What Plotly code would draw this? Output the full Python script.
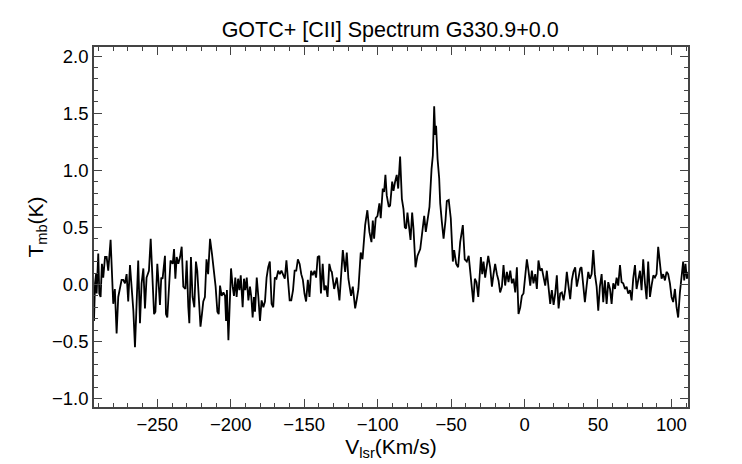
import plotly.graph_objects as go

# Velocity channels (km/s) and main-beam temperature (K)
vel = [
    -293.1, -292.4, -291.7, -291.3, -290.2, -289.5, -288.6, -287.7, -286.8, -285.6,
    -284.5, -283.4, -281.8, -280.0, -278.9, -277.7, -276.6, -275.4, -274.3, -273.2,
    -272.0, -270.9, -269.8, -268.6, -267.5, -266.3, -265.2, -264.1, -263.0, -261.8,
    -260.7, -259.5, -258.4, -257.3, -255.7, -254.5, -253.2, -252.2, -251.3, -250.0,
    -249.1, -248.2, -247.3, -246.4, -244.8, -244.1, -243.2, -241.8, -241.0, -239.5,
    -238.6, -237.7, -236.8, -235.7, -234.5, -233.4, -232.3, -230.9, -230.0, -228.9,
    -228.2, -227.1, -226.0, -224.8, -223.7, -222.8, -221.7, -220.6, -219.6, -218.7,
    -217.6, -216.5, -215.4, -214.1, -212.8, -211.4, -210.3, -209.1, -208.2, -207.3,
    -206.2, -205.0, -203.9, -203.2, -202.6, -201.6, -200.5, -199.8, -198.7, -197.8,
    -196.9, -196.0, -195.0, -194.1, -193.2, -191.9, -191.0, -190.1, -189.1, -188.0,
    -186.9, -186.0, -185.1, -184.2, -183.5, -182.3, -181.2, -180.1, -179.0, -177.8,
    -176.7, -175.6, -174.5, -173.4, -172.2, -171.1, -170.0, -168.9, -167.7, -166.6,
    -165.5, -164.4, -163.2, -162.1, -161.0, -159.9, -158.8, -157.6, -156.5, -155.4,
    -154.3, -153.1, -152.0, -150.9, -149.8, -148.7, -147.5, -146.4, -145.3, -144.2,
    -143.0, -141.9, -140.8, -139.7, -138.6, -137.4, -136.3, -135.2, -134.1, -132.9,
    -131.8, -131.2, -129.6, -127.8, -126.0, -123.7, -122.1, -121.0, -119.9, -118.1,
    -116.9, -115.3, -114.2, -113.1, -111.5, -110.3, -108.5, -107.0, -105.6, -104.2,
    -103.3, -102.4, -101.3, -100.1, -98.8, -97.9, -96.5, -95.6, -94.7, -93.8,
    -92.4, -91.5, -90.1, -89.2, -88.1, -87.0, -86.0, -84.7, -83.5, -82.4,
    -81.5, -80.6, -79.7, -78.5, -77.6, -76.5, -75.6, -74.2, -72.9, -71.0,
    -69.2, -68.3, -67.2, -65.8, -64.7, -63.3, -62.4, -61.5, -60.8, -60.2,
    -59.2, -58.1, -57.4, -56.3, -55.1, -53.8, -52.9, -51.6, -50.2, -48.8,
    -47.9, -46.5, -45.2, -43.8, -42.0, -40.7, -39.3, -38.0, -36.6, -34.9,
    -33.8, -32.7, -31.5, -30.6, -29.7, -28.8, -27.9, -26.8, -25.8, -24.7,
    -23.4, -22.2, -21.1, -20.0, -18.8, -17.7, -16.6, -15.4, -14.3, -13.2,
    -12.0, -10.9, -9.7, -8.6, -7.5, -6.3, -5.2, -4.1, -2.9, -1.8,
    -0.7, 0.5, 1.6, 2.7, 3.9, 5.0, 6.1, 7.3, 8.4, 9.5,
    10.7, 11.8, 12.9, 14.1, 15.2, 16.3, 17.5, 18.6, 19.8, 20.9,
    22.0, 23.2, 24.3, 25.4, 26.6, 27.7, 28.8, 29.9, 31.1, 32.2,
    33.3, 34.5, 35.6, 36.8, 37.9, 38.8, 40.0, 41.1, 42.3, 43.4,
    44.5, 45.7, 46.8, 47.9, 49.1, 50.2, 51.3, 52.5, 53.6, 54.7,
    55.9, 57.0, 58.2, 59.3, 60.4, 61.6, 62.7, 63.8, 65.0, 66.1,
    67.2, 68.4, 69.5, 70.6, 71.8, 72.9, 74.0, 75.2, 76.3, 77.4,
    78.6, 79.7, 80.8, 82.0, 83.1, 84.2, 85.4, 86.5, 87.7, 88.8,
    89.9, 91.0, 92.2, 93.3, 94.4, 95.6, 96.7, 97.8, 99.0, 100.1,
    101.2, 102.4, 103.5, 104.6, 105.8, 106.9, 108.0, 108.7, 109.6, 110.5,
    111.5,
]

tmb = [
    -0.32, 0.01, 0.09, -0.08, 0.27, -0.08, -0.11, 0.18, 0.06, 0.24,
    0.24, 0.12, 0.39, -0.17, -0.04, -0.43, -0.11, -0.02, 0.04, 0.04,
    0.01, 0.09, -0.15, 0.17, 0.01, -0.23, -0.55, -0.11, 0.21, -0.34,
    0.01, 0.14, -0.21, 0.06, 0.12, 0.40, 0.06, -0.26, -0.24, 0.18,
    0.01, -0.18, 0.06, 0.05, 0.25, -0.26, -0.29, 0.12, 0.21, 0.18,
    0.31, 0.05, 0.24, 0.18, 0.24, 0.33, -0.02, -0.04, 0.21, -0.20,
    -0.34, 0.24, -0.11, -0.20, 0.20, 0.12, -0.08, -0.37, -0.26, -0.15,
    -0.11, 0.22, 0.09, 0.40, 0.27, 0.12, -0.02, -0.24, -0.26, -0.01,
    -0.10, -0.07, -0.10, -0.32, -0.05, -0.49, -0.02, 0.14, -0.02, -0.10,
    0.06, -0.11, 0.05, -0.05, 0.08, -0.20, 0.05, -0.05, 0.06, -0.14,
    -0.02, -0.11, -0.29, -0.11, -0.24, 0.06, -0.11, -0.32, -0.14, -0.20,
    -0.15, 0.06, 0.15, 0.20, -0.17, -0.20, 0.06, 0.05, 0.12, 0.09,
    0.12, 0.09, 0.05, 0.21, 0.06, -0.14, -0.14, -0.05, 0.12, 0.12,
    0.22, 0.18, 0.09, 0.04, -0.08, -0.15, 0.04, -0.11, 0.12, 0.08,
    0.12, 0.06, 0.24, 0.25, -0.08, 0.18, -0.05, -0.01, -0.11, 0.18,
    0.12, 0.11, -0.04, 0.06, -0.14, 0.30, 0.11, 0.28, 0.05, -0.10,
    -0.02, -0.21, -0.13, -0.04, 0.28, 0.22, 0.52, 0.65, 0.46, 0.37,
    0.56, 0.40, 0.58, 0.60, 0.71, 0.58, 0.84, 0.81, 0.96, 0.78,
    0.68, 0.69, 0.90, 0.82, 0.90, 0.96, 0.84, 1.12, 0.75, 0.66,
    0.50, 0.49, 0.63, 0.52, 0.39, 0.63, 0.49, 0.15, 0.25, 0.31,
    0.49, 0.60, 0.46, 0.58, 0.68, 1.01, 1.13, 1.56, 1.31, 1.39,
    1.10, 0.93, 0.71, 0.55, 0.40, 0.56, 0.73, 0.74, 0.58, 0.20,
    0.30, 0.18, 0.15, 0.37, 0.52, 0.22, 0.20, 0.25, 0.09, -0.155,
    0.05, 0.02, -0.11, 0.08, 0.24, 0.09, 0.20, 0.06, 0.14, 0.25,
    0.15, -0.02, 0.09, 0.18, 0.09, 0.035, -0.07, -0.02, 0.17, -0.01,
    0.11, 0.02, 0.12, 0.01, 0.05, -0.07, 0.15, -0.26, -0.20, -0.10,
    -0.08, 0.09, 0.22, 0.12, -0.01, 0.12, 0.01, 0.09, -0.04, 0.21,
    0.12, 0.14, 0.08, -0.01, 0.12, -0.04, -0.17, -0.05, -0.18, -0.08,
    0.08, -0.21, -0.08, -0.07, -0.14, -0.05, 0.11, -0.01, -0.13, 0.035,
    0.11, 0.15, -0.02, 0.06, 0.14, 0.15, -0.05, -0.155, -0.01, 0.11,
    0.05, 0.09, 0.30, 0.09, -0.02, -0.23, -0.02, 0.09, -0.155, 0.035,
    -0.17, 0.02, -0.04, -0.17, 0.01, -0.04, 0.06, -0.01, 0.17, 0.02,
    0.01, -0.04, -0.02, -0.08, -0.05, -0.14, 0.05, 0.17, -0.04, 0.035,
    0.12, -0.05, 0.22, 0.01, -0.13, 0.20, -0.11, -0.01, 0.08, 0.06,
    0.09, 0.33, 0.15, 0.05, 0.09, 0.035, 0.11, 0.09, 0.01, -0.11,
    -0.155, -0.04, -0.20, -0.29, -0.07, 0.06, 0.20, 0.035, 0.18, 0.05,
    0.11,
]

x_ticks = [-250, -200, -150, -100, -50, 0, 50, 100]
y_ticks = [-1.0, -0.5, 0.0, 0.5, 1.0, 1.5, 2.0]

fig = go.Figure(go.Scatter(x=vel, y=tmb, mode="lines",
                           line=dict(color="black", width=1.8),
                           showlegend=False))

# IDL-like boxed axes: inside ticks on all four sides
axis_style = dict(
    showline=True, linecolor="#444", linewidth=1.5, mirror="allticks",
    ticks="inside", ticklen=8, tickwidth=1.2, tickcolor="#444",
    showgrid=False, zeroline=False, automargin=False,
    tickfont=dict(size=18.5, color="black"),
)

fig.update_xaxes(range=[-293.1, 111.3], tickvals=x_ticks,
                 minor=dict(ticks="inside", ticklen=4, dtick=10, tickcolor="#444"),
                 title=dict(text="V<sub>lsr</sub>(Km/s)", font=dict(size=21, color="black"), standoff=1),
                 **axis_style)
fig.update_yaxes(range=[-1.074, 2.08], tickvals=y_ticks, tickformat=".1f",
                 minor=dict(ticks="inside", ticklen=4, dtick=0.1, tickcolor="#444"),
                 title=dict(text="T<sub>mb</sub>(K)", font=dict(size=21, color="black"), standoff=3),
                 **axis_style)

# the page body adds an 8px offset, so margins are shifted to compensate
fig.update_layout(
    width=742, height=464,
    margin=dict(l=86, r=62, t=39, b=65),
    plot_bgcolor="white", paper_bgcolor="white",
    font=dict(family="Liberation Sans, Arial, sans-serif", color="black"),
    title=dict(text="GOTC+ [CII] Spectrum G330.9+0.0", x=0.515, xanchor="center",
               y=0.953, yanchor="middle", font=dict(size=21.5, color="black")),
)

fig.write_html("out.html")
